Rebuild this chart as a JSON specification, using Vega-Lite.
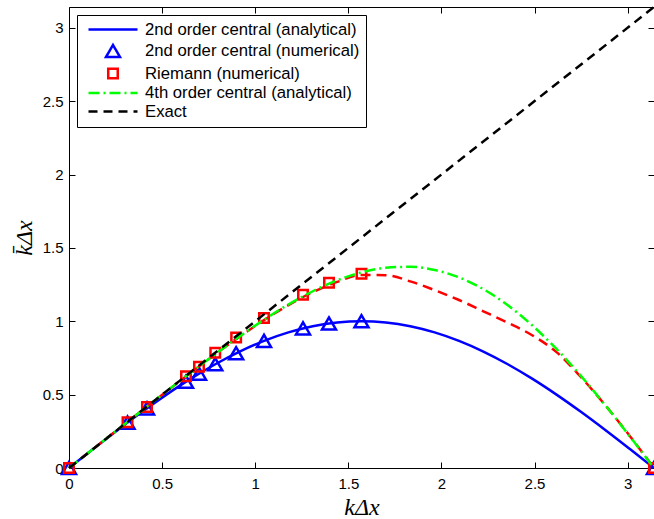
{
  "$schema": "https://vega.github.io/schema/vega-lite/v6.json",
  "width": 585,
  "height": 461,
  "autosize": {"type": "none"},
  "padding": {"left": 69, "top": 7, "right": 0, "bottom": 51},
  "background": "white",
  "config": {
    "view": {"stroke": null},
    "axis": {
      "grid": false,
      "domainColor": "black",
      "domainWidth": 1,
      "tickColor": "black",
      "tickWidth": 1,
      "tickSize": -6,
      "labelFont": "Liberation Sans",
      "labelFontSize": 15,
      "labelColor": "black",
      "titleFont": "Liberation Serif",
      "titleFontStyle": "italic",
      "titleFontWeight": "normal",
      "titleFontSize": 24,
      "titleColor": "black",
      "format": "~g"
    }
  },
  "datasets": {
    "curves": [
      {"series": "2nd order central (analytical)", "x": 0, "y": 0},
      {"series": "2nd order central (analytical)", "x": 0.1309, "y": 0.1305},
      {"series": "2nd order central (analytical)", "x": 0.2618, "y": 0.2588},
      {"series": "2nd order central (analytical)", "x": 0.3927, "y": 0.3827},
      {"series": "2nd order central (analytical)", "x": 0.5236, "y": 0.5},
      {"series": "2nd order central (analytical)", "x": 0.6545, "y": 0.6088},
      {"series": "2nd order central (analytical)", "x": 0.7854, "y": 0.7071},
      {"series": "2nd order central (analytical)", "x": 0.9163, "y": 0.7934},
      {"series": "2nd order central (analytical)", "x": 1.0472, "y": 0.866},
      {"series": "2nd order central (analytical)", "x": 1.1781, "y": 0.9239},
      {"series": "2nd order central (analytical)", "x": 1.309, "y": 0.9659},
      {"series": "2nd order central (analytical)", "x": 1.4399, "y": 0.9914},
      {"series": "2nd order central (analytical)", "x": 1.5708, "y": 1.0},
      {"series": "2nd order central (analytical)", "x": 1.7017, "y": 0.9914},
      {"series": "2nd order central (analytical)", "x": 1.8326, "y": 0.9659},
      {"series": "2nd order central (analytical)", "x": 1.9635, "y": 0.9239},
      {"series": "2nd order central (analytical)", "x": 2.0944, "y": 0.866},
      {"series": "2nd order central (analytical)", "x": 2.2253, "y": 0.7934},
      {"series": "2nd order central (analytical)", "x": 2.3562, "y": 0.7071},
      {"series": "2nd order central (analytical)", "x": 2.4871, "y": 0.6088},
      {"series": "2nd order central (analytical)", "x": 2.618, "y": 0.5},
      {"series": "2nd order central (analytical)", "x": 2.7489, "y": 0.3827},
      {"series": "2nd order central (analytical)", "x": 2.8798, "y": 0.2588},
      {"series": "2nd order central (analytical)", "x": 3.0107, "y": 0.1305},
      {"series": "2nd order central (analytical)", "x": 3.1416, "y": 0},
      {"series": "Riemann (analytical)", "x": 0, "y": 0},
      {"series": "Riemann (analytical)", "x": 0.1309, "y": 0.1309},
      {"series": "Riemann (analytical)", "x": 0.2618, "y": 0.2617},
      {"series": "Riemann (analytical)", "x": 0.3927, "y": 0.392},
      {"series": "Riemann (analytical)", "x": 0.5236, "y": 0.522},
      {"series": "Riemann (analytical)", "x": 0.6545, "y": 0.65},
      {"series": "Riemann (analytical)", "x": 0.7854, "y": 0.776},
      {"series": "Riemann (analytical)", "x": 0.9163, "y": 0.895},
      {"series": "Riemann (analytical)", "x": 1.0472, "y": 1.008},
      {"series": "Riemann (analytical)", "x": 1.1781, "y": 1.11},
      {"series": "Riemann (analytical)", "x": 1.309, "y": 1.198},
      {"series": "Riemann (analytical)", "x": 1.4399, "y": 1.268},
      {"series": "Riemann (analytical)", "x": 1.5708, "y": 1.316},
      {"series": "Riemann (analytical)", "x": 1.7017, "y": 1.314},
      {"series": "Riemann (analytical)", "x": 1.8326, "y": 1.272},
      {"series": "Riemann (analytical)", "x": 1.9635, "y": 1.212},
      {"series": "Riemann (analytical)", "x": 2.0944, "y": 1.145},
      {"series": "Riemann (analytical)", "x": 2.2253, "y": 1.068},
      {"series": "Riemann (analytical)", "x": 2.3562, "y": 0.99},
      {"series": "Riemann (analytical)", "x": 2.4871, "y": 0.905},
      {"series": "Riemann (analytical)", "x": 2.618, "y": 0.79},
      {"series": "Riemann (analytical)", "x": 2.7489, "y": 0.62},
      {"series": "Riemann (analytical)", "x": 2.8798, "y": 0.428},
      {"series": "Riemann (analytical)", "x": 3.0107, "y": 0.22},
      {"series": "Riemann (analytical)", "x": 3.1416, "y": 0},
      {"series": "4th order central (analytical)", "x": 0, "y": 0},
      {"series": "4th order central (analytical)", "x": 0.1309, "y": 0.1309},
      {"series": "4th order central (analytical)", "x": 0.2618, "y": 0.2617},
      {"series": "4th order central (analytical)", "x": 0.3927, "y": 0.3924},
      {"series": "4th order central (analytical)", "x": 0.5236, "y": 0.5223},
      {"series": "4th order central (analytical)", "x": 0.6545, "y": 0.6508},
      {"series": "4th order central (analytical)", "x": 0.7854, "y": 0.7761},
      {"series": "4th order central (analytical)", "x": 0.9163, "y": 0.8969},
      {"series": "4th order central (analytical)", "x": 1.0472, "y": 1.0103},
      {"series": "4th order central (analytical)", "x": 1.1781, "y": 1.114},
      {"series": "4th order central (analytical)", "x": 1.309, "y": 1.2045},
      {"series": "4th order central (analytical)", "x": 1.4399, "y": 1.2787},
      {"series": "4th order central (analytical)", "x": 1.5708, "y": 1.3333},
      {"series": "4th order central (analytical)", "x": 1.7017, "y": 1.365},
      {"series": "4th order central (analytical)", "x": 1.8326, "y": 1.3712},
      {"series": "4th order central (analytical)", "x": 1.9635, "y": 1.3497},
      {"series": "4th order central (analytical)", "x": 2.0944, "y": 1.299},
      {"series": "4th order central (analytical)", "x": 2.2253, "y": 1.2189},
      {"series": "4th order central (analytical)", "x": 2.3562, "y": 1.1095},
      {"series": "4th order central (analytical)", "x": 2.4871, "y": 0.9727},
      {"series": "4th order central (analytical)", "x": 2.618, "y": 0.811},
      {"series": "4th order central (analytical)", "x": 2.7489, "y": 0.6281},
      {"series": "4th order central (analytical)", "x": 2.8798, "y": 0.4284},
      {"series": "4th order central (analytical)", "x": 3.0107, "y": 0.2171},
      {"series": "4th order central (analytical)", "x": 3.1416, "y": 0},
      {"series": "Exact", "x": 0, "y": 0},
      {"series": "Exact", "x": 3.1416, "y": 3.1416}
    ],
    "points": [
      {"series": "2nd order central (numerical)", "x": 0, "y": 0},
      {"series": "2nd order central (numerical)", "x": 0.3142, "y": 0.309},
      {"series": "2nd order central (numerical)", "x": 0.4189, "y": 0.4067},
      {"series": "2nd order central (numerical)", "x": 0.6283, "y": 0.5878},
      {"series": "2nd order central (numerical)", "x": 0.6981, "y": 0.6428},
      {"series": "2nd order central (numerical)", "x": 0.7854, "y": 0.7071},
      {"series": "2nd order central (numerical)", "x": 0.8976, "y": 0.7818},
      {"series": "2nd order central (numerical)", "x": 1.0472, "y": 0.866},
      {"series": "2nd order central (numerical)", "x": 1.2566, "y": 0.9511},
      {"series": "2nd order central (numerical)", "x": 1.3963, "y": 0.9848},
      {"series": "2nd order central (numerical)", "x": 1.5708, "y": 1.0},
      {"series": "2nd order central (numerical)", "x": 3.1416, "y": 0},
      {"series": "Riemann (numerical)", "x": 0, "y": 0},
      {"series": "Riemann (numerical)", "x": 0.3142, "y": 0.312},
      {"series": "Riemann (numerical)", "x": 0.4189, "y": 0.415},
      {"series": "Riemann (numerical)", "x": 0.6283, "y": 0.625},
      {"series": "Riemann (numerical)", "x": 0.6981, "y": 0.69},
      {"series": "Riemann (numerical)", "x": 0.7854, "y": 0.785},
      {"series": "Riemann (numerical)", "x": 0.8976, "y": 0.89},
      {"series": "Riemann (numerical)", "x": 1.0472, "y": 1.022},
      {"series": "Riemann (numerical)", "x": 1.2566, "y": 1.18},
      {"series": "Riemann (numerical)", "x": 1.3963, "y": 1.262},
      {"series": "Riemann (numerical)", "x": 1.5708, "y": 1.323},
      {"series": "Riemann (numerical)", "x": 3.1416, "y": 0}
    ]
  },
  "layer": [
    {
      "layer": [
        {
          "data": {"name": "curves"},
          "transform": [{"filter": "datum.series === '2nd order central (analytical)'"}],
          "mark": {"type": "line", "strokeWidth": 2.5, "interpolate": "monotone"},
          "encoding": {
            "x": {"field": "x", "type": "quantitative"},
            "y": {"field": "y", "type": "quantitative"},
            "color": {"field": "series", "type": "nominal"}
          }
        },
        {
          "data": {"name": "points"},
          "transform": [{"filter": "datum.series === '2nd order central (numerical)'"}],
          "mark": {"type": "point", "shape": "triangle-up", "size": 196, "filled": false, "strokeWidth": 2.5, "opacity": 1},
          "encoding": {
            "x": {"field": "x", "type": "quantitative"},
            "y": {"field": "y", "type": "quantitative"},
            "color": {"field": "series", "type": "nominal"}
          }
        },
        {
          "data": {"name": "curves"},
          "transform": [{"filter": "datum.series === 'Riemann (analytical)'"}],
          "mark": {"type": "line", "strokeWidth": 2.5, "color": "#ff0000", "strokeDash": [10, 6], "interpolate": "monotone"},
          "encoding": {
            "x": {"field": "x", "type": "quantitative"},
            "y": {"field": "y", "type": "quantitative"}
          }
        },
        {
          "data": {"name": "points"},
          "transform": [{"filter": "datum.series === 'Riemann (numerical)'"}],
          "mark": {"type": "point", "shape": "square", "size": 90, "filled": false, "strokeWidth": 2.5, "opacity": 1},
          "encoding": {
            "x": {"field": "x", "type": "quantitative"},
            "y": {"field": "y", "type": "quantitative"},
            "color": {"field": "series", "type": "nominal"}
          }
        },
        {
          "data": {"name": "curves"},
          "transform": [{"filter": "datum.series === '4th order central (analytical)'"}],
          "mark": {"type": "line", "strokeWidth": 2.5, "strokeDash": [11, 4, 2, 4], "interpolate": "monotone"},
          "encoding": {
            "x": {"field": "x", "type": "quantitative"},
            "y": {"field": "y", "type": "quantitative"},
            "color": {"field": "series", "type": "nominal"}
          }
        },
        {
          "data": {"name": "curves"},
          "transform": [{"filter": "datum.series === 'Exact'"}],
          "mark": {"type": "line", "strokeWidth": 2.5, "strokeDash": [9, 6]},
          "encoding": {
            "x": {
              "field": "x", "type": "quantitative",
              "scale": {"domain": [0, 3.14159], "nice": false, "zero": false},
              "axis": {"orient": "bottom", "values": [0, 0.5, 1, 1.5, 2, 2.5, 3], "title": "k\u0394x", "labelPadding": 14, "titlePadding": 4, "labelFlush": false}
            },
            "y": {
              "field": "y", "type": "quantitative",
              "scale": {"domain": [0, 3.14159], "nice": false, "zero": false},
              "axis": {"orient": "left", "values": [0, 0.5, 1, 1.5, 2, 2.5, 3], "title": "k\u0304\u0394x", "labelPadding": 12, "titlePadding": 6, "labelFlush": false}
            },
            "color": {
              "field": "series", "type": "nominal",
              "scale": {
                "domain": ["2nd order central (analytical)", "2nd order central (numerical)", "Riemann (numerical)", "4th order central (analytical)", "Exact"],
                "range": ["#0000ff", "#0000ff", "#ff0000", "#00ff00", "#000000"]
              },
              "legend": {
                "title": null,
                "orient": "top-left",
                "offset": 8,
                "padding": 6,
                "strokeColor": "black",
                "fillColor": "white",
                "symbolSize": 196,
                "symbolStrokeWidth": 2.5,
                "labelFont": "Liberation Sans",
                "labelFontSize": 16.7,
                "labelColor": "black",
                "labelOffset": 45,
                "rowPadding": 0.5,
                "labelLimit": 400,
                "encode": {
                  "symbols": {
                    "update": {
                      "shape": {"signal": "datum.value === '2nd order central (numerical)' ? 'M3.07,-0.857L2.07,0.857L4.07,0.857Z' : datum.value === 'Riemann (numerical)' ? 'M2.39,-0.68H3.75V0.68H2.39Z' : 'M-0.4286,0H6.571'"},
                      "strokeDash": {"signal": "datum.value === '4th order central (analytical)' ? [11,4,2,4] : datum.value === 'Exact' ? [9,6] : [1,0]"},
                      "fill": {"value": "transparent"},
                      "stroke": {"signal": "scale('color', datum.value)"},
                      "strokeWidth": {"value": 2.5},
                      "opacity": {"value": 1}
                    }
                  }
                }
              }
            }
          }
        }
      ]
    },
    {
      "data": {"name": "curves"},
      "transform": [{"filter": "datum.series === 'Exact'"}],
      "mark": {"type": "line", "strokeOpacity": 0},
      "encoding": {
        "x": {
          "field": "x", "type": "quantitative",
          "scale": {"domain": [0, 3.14159], "nice": false, "zero": false},
          "axis": {"orient": "top", "values": [0, 0.5, 1, 1.5, 2, 2.5, 3], "labels": false, "title": null}
        },
        "y": {
          "field": "y", "type": "quantitative",
          "scale": {"domain": [0, 3.14159], "nice": false, "zero": false},
          "axis": {"orient": "right", "values": [0, 0.5, 1, 1.5, 2, 2.5, 3], "labels": false, "title": null}
        }
      }
    }
  ],
  "resolve": {"scale": {"x": "independent", "y": "independent"}}
}
